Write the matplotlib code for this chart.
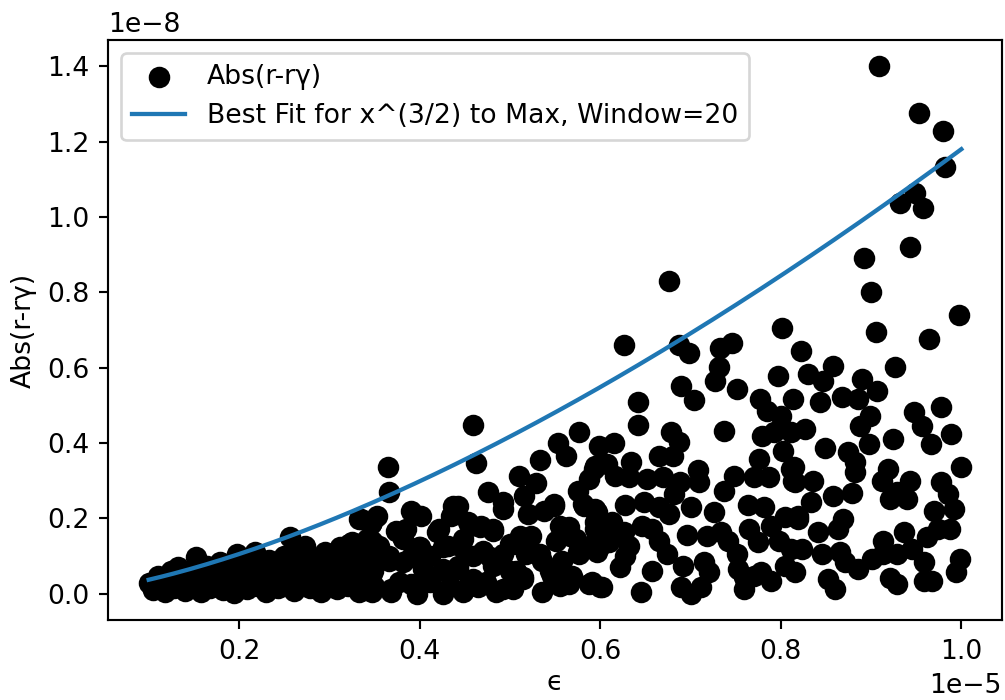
import numpy as np
import matplotlib
matplotlib.use("Agg")
import matplotlib.pyplot as plt

# epsilon values (units of 1e-5) and |r - r_gamma| (units of 1e-8)
eps_low = [0.100, 0.105, 0.110, 0.112, 0.118, 0.122, 0.125, 0.128, 0.133, 0.135,
           0.140, 0.143, 0.147, 0.150, 0.152, 0.155, 0.158, 0.162, 0.165, 0.168,
           0.172, 0.175, 0.179, 0.182, 0.185, 0.188, 0.191, 0.195, 0.198, 0.200,
           0.203, 0.206, 0.209, 0.212, 0.215, 0.218, 0.220, 0.224, 0.227, 0.230,
           0.233, 0.236, 0.240, 0.243, 0.246, 0.250, 0.252, 0.256, 0.258, 0.261,
           0.264, 0.267, 0.270, 0.273, 0.276, 0.279, 0.282, 0.285, 0.288, 0.291,
           0.295, 0.297, 0.300, 0.303, 0.306, 0.309, 0.312, 0.315, 0.318, 0.321,
           0.325, 0.327, 0.330, 0.333, 0.335, 0.338, 0.340, 0.342, 0.344, 0.346,
           0.348, 0.350]
res_low = [0.030, 0.010, 0.048, 0.020, 0.005, 0.035, 0.060, 0.015, 0.072, 0.030,
           0.008, 0.050, 0.020, 0.065, 0.098, 0.035, 0.005, 0.045, 0.075, 0.015,
           0.030, 0.055, 0.085, 0.010, 0.040, 0.065, 0.022, 0.003, 0.106, 0.050,
           0.030, 0.080, 0.012, 0.060, 0.040, 0.111, 0.020, 0.075, 0.050, 0.005,
           0.090, 0.033, 0.062, 0.015, 0.045, 0.100, 0.025, 0.151, 0.070, 0.008,
           0.052, 0.120, 0.035, 0.127, 0.085, 0.015, 0.060, 0.040, 0.095, 0.005,
           0.111, 0.070, 0.030, 0.050, 0.085, 0.012, 0.125, 0.040, 0.065, 0.020,
           0.138, 0.095, 0.050, 0.005, 0.199, 0.075, 0.030, 0.146, 0.110, 0.186,
           0.060, 0.020]

eps_mid = [0.459, 0.462, 0.365, 0.366, 0.553, 0.577, 0.562, 0.533, 0.510, 0.529,
           0.516, 0.476, 0.492, 0.575, 0.588, 0.594, 0.582, 0.549, 0.538, 0.520,
           0.390, 0.402, 0.443, 0.435, 0.347, 0.374, 0.456, 0.481, 0.468, 0.421,
           0.382, 0.399, 0.432, 0.448, 0.500, 0.511, 0.556, 0.567, 0.594, 0.575,
           0.594, 0.355, 0.346, 0.366, 0.390, 0.412, 0.459, 0.478, 0.492, 0.518,
           0.536, 0.558, 0.346, 0.377, 0.408, 0.430, 0.443, 0.459, 0.474, 0.500,
           0.514, 0.544, 0.566, 0.591, 0.347, 0.368, 0.397, 0.426, 0.448, 0.485,
           0.503, 0.536]
res_mid = [0.448, 0.347, 0.337, 0.271, 0.401, 0.430, 0.366, 0.355, 0.313, 0.294,
           0.260, 0.271, 0.225, 0.273, 0.305, 0.340, 0.233, 0.233, 0.220, 0.212,
           0.220, 0.207, 0.233, 0.207, 0.191, 0.167, 0.180, 0.167, 0.180, 0.172,
           0.146, 0.125, 0.127, 0.146, 0.133, 0.154, 0.180, 0.154, 0.191, 0.111,
           0.119, 0.127, 0.101, 0.088, 0.098, 0.101, 0.101, 0.098, 0.106, 0.106,
           0.088, 0.088, 0.048, 0.032, 0.045, 0.058, 0.066, 0.040, 0.032, 0.061,
           0.045, 0.061, 0.045, 0.032, 0.005, 0.005, 0.000, 0.000, 0.005, 0.005,
           0.013, 0.005]

eps_dense = [0.333, 0.353, 0.437, 0.454, 0.322, 0.347, 0.385, 0.380, 0.401, 0.419,
             0.426, 0.445, 0.324, 0.346, 0.366, 0.382, 0.404, 0.426, 0.443, 0.324,
             0.346, 0.368, 0.390, 0.412, 0.434, 0.452, 0.465, 0.492, 0.549, 0.581,
             0.594, 0.467, 0.481, 0.503, 0.523, 0.533, 0.551, 0.566, 0.573, 0.577,
             0.594, 0.600, 0.470, 0.481, 0.507, 0.514, 0.547, 0.569, 0.566, 0.588,
             0.602, 0.474, 0.492, 0.555]
res_dense = [0.199, 0.207, 0.233, 0.191, 0.133, 0.141, 0.172, 0.154, 0.125, 0.164,
             0.125, 0.127, 0.085, 0.093, 0.101, 0.085, 0.066, 0.066, 0.074, 0.032,
             0.019, 0.013, 0.027, 0.032, 0.021, 0.019, 0.019, 0.244, 0.239, 0.239,
             0.225, 0.178, 0.172, 0.133, 0.154, 0.106, 0.141, 0.178, 0.146, 0.106,
             0.172, 0.127, 0.114, 0.074, 0.061, 0.040, 0.048, 0.048, 0.027, 0.027,
             0.019, 0.027, 0.013, 0.021]

eps_hi = [0.676, 0.626, 0.687, 0.698, 0.733, 0.746, 0.801, 0.822, 0.732, 0.727,
          0.689, 0.752, 0.797, 0.704, 0.642, 0.777, 0.814, 0.785, 0.800, 0.642,
          0.737, 0.678, 0.687, 0.779, 0.792, 0.811, 0.599, 0.615, 0.665, 0.681,
          0.776, 0.803, 0.608, 0.634, 0.593, 0.616, 0.632, 0.652, 0.670, 0.688,
          0.708, 0.710, 0.682, 0.748, 0.737, 0.770, 0.787, 0.811, 0.814, 0.627,
          0.649, 0.665, 0.676, 0.701, 0.726, 0.764, 0.781, 0.805, 0.819, 0.597,
          0.602, 0.613, 0.626, 0.646, 0.657, 0.665, 0.594, 0.610, 0.632, 0.597,
          0.627, 0.674, 0.696, 0.718, 0.734, 0.742, 0.752, 0.765, 0.775, 0.789,
          0.798, 0.811, 0.805, 0.622, 0.657, 0.692, 0.715, 0.720, 0.753, 0.759,
          0.770, 0.789, 0.600, 0.645, 0.690, 0.701, 0.712, 0.759, 0.778]
res_hi = [0.830, 0.660, 0.660, 0.639, 0.652, 0.666, 0.706, 0.645, 0.602, 0.565,
          0.552, 0.544, 0.578, 0.515, 0.509, 0.517, 0.517, 0.485, 0.472, 0.448,
          0.432, 0.430, 0.403, 0.419, 0.430, 0.430, 0.393, 0.401, 0.366, 0.366,
          0.358, 0.379, 0.345, 0.350, 0.332, 0.313, 0.310, 0.305, 0.310, 0.297,
          0.329, 0.297, 0.265, 0.313, 0.273, 0.310, 0.310, 0.332, 0.300, 0.236,
          0.244, 0.231, 0.212, 0.231, 0.218, 0.236, 0.231, 0.204, 0.207, 0.218,
          0.180, 0.191, 0.164, 0.180, 0.172, 0.141, 0.138, 0.138, 0.127, 0.111,
          0.101, 0.106, 0.156, 0.154, 0.164, 0.141, 0.106, 0.172, 0.138, 0.180,
          0.141, 0.119, 0.074, 0.072, 0.061, 0.074, 0.085, 0.058, 0.066, 0.045,
          0.048, 0.034, 0.019, 0.005, 0.019, 0.000, 0.019, 0.013, 0.058]

eps_top = [0.909, 0.953, 0.980, 0.982, 0.949, 0.932, 0.957, 0.943, 0.892, 0.900,
           0.997, 0.905, 0.964, 0.858, 0.926, 0.830, 0.847, 0.890, 0.907, 0.844,
           0.868, 0.885, 0.899, 0.888, 0.948, 0.978, 0.956, 0.989, 0.966, 0.924,
           0.898, 0.827, 0.849, 0.874, 0.882, 0.882, 1.000, 0.919, 0.912, 0.943,
           0.929, 0.940, 0.921, 0.978, 0.985, 0.992, 0.970, 0.987, 0.974, 0.962,
           0.937, 0.913, 0.945, 0.929, 0.913, 0.901, 0.959, 0.998, 0.994, 0.968,
           0.959, 0.921, 0.929, 0.836, 0.833, 0.858, 0.879, 0.819, 0.841, 0.863,
           0.869, 0.824, 0.846, 0.866, 0.871, 0.886, 0.816, 0.852, 0.860, 0.815,
           0.816]
res_top = [1.400, 1.276, 1.228, 1.133, 1.064, 1.037, 1.024, 0.920, 0.891, 0.801,
           0.740, 0.695, 0.675, 0.605, 0.602, 0.584, 0.565, 0.570, 0.538, 0.509,
           0.522, 0.517, 0.472, 0.446, 0.483, 0.496, 0.446, 0.424, 0.398, 0.411,
           0.398, 0.438, 0.387, 0.377, 0.350, 0.324, 0.337, 0.332, 0.300, 0.300,
           0.271, 0.252, 0.252, 0.297, 0.265, 0.225, 0.220, 0.172, 0.172, 0.151,
           0.164, 0.141, 0.119, 0.106, 0.106, 0.093, 0.085, 0.093, 0.058, 0.034,
           0.034, 0.042, 0.027, 0.300, 0.244, 0.260, 0.268, 0.199, 0.164, 0.172,
           0.199, 0.119, 0.106, 0.111, 0.085, 0.066, 0.058, 0.040, 0.013, 0.337,
           0.297]

# best fit of c * eps^(3/2) to the windowed maxima
fit_coef = 1.18
fit_eps_min, fit_eps_max = 0.1, 1.0

eps = np.array(eps_low + eps_mid + eps_dense + eps_hi + eps_top) * 1e-5
res = np.array(res_low + res_mid + res_dense + res_hi + res_top) * 1e-8

fit_x = np.linspace(fit_eps_min, fit_eps_max, 200)
fit_y = fit_coef * fit_x ** 1.5

DPI = 192
fig = plt.figure(figsize=(1005 / DPI, 700 / DPI), dpi=DPI)
ax = fig.add_axes([0.1075, 0.114, 0.8895, 0.829])

ax.scatter(eps, res, s=50, color="black", label="Abs(r-r\u03b3)", zorder=2)
ax.plot(fit_x * 1e-5, fit_y * 1e-8, color="#1f77b4", lw=1.6,
        label="Best Fit for x^(3/2) to Max, Window=20", zorder=3)

ax.set_xlabel("\u03f5", labelpad=2)
ax.set_ylabel("Abs(r-r\u03b3)")
ax.legend(loc="upper left")

fig.savefig("out.png", dpi=DPI)
